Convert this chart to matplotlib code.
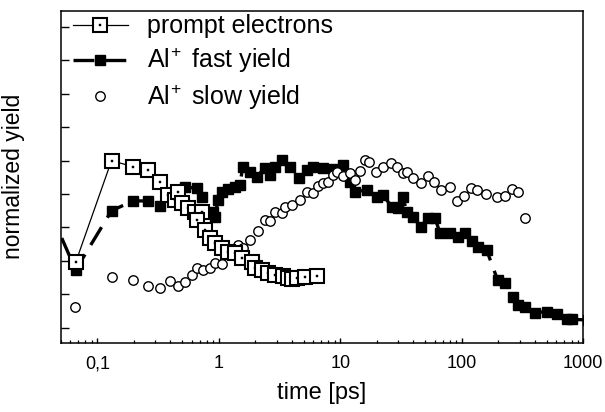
import matplotlib
matplotlib.use('Agg')
import matplotlib.pyplot as plt
from matplotlib.lines import Line2D
from matplotlib.legend_handler import HandlerTuple
from matplotlib.ticker import FixedLocator, FixedFormatter, LogLocator, NullFormatter

plt.rcParams['font.family'] = ['Liberation Sans', 'DejaVu Sans']
plt.rcParams['mathtext.fontset'] = 'custom'
plt.rcParams['mathtext.rm'] = 'Liberation Sans'
plt.rcParams['mathtext.default'] = 'regular'
plt.rcParams['lines.scale_dashes'] = False

# prompt electrons (open squares)
prompt_t = [0.0668, 0.131, 0.198, 0.263, 0.328, 0.384, 0.436, 0.464, 0.495, 0.561,
            0.637, 0.723, 0.658, 0.769, 0.846, 0.931, 1.057, 1.197, 1.36, 1.543,
            1.866, 1.986, 2.254, 2.553, 2.90, 3.397, 3.733, 3.98, 4.375, 5.12, 6.47]
prompt_y = [0.198, 0.500, 0.482, 0.472, 0.437, 0.397, 0.382, 0.407, 0.372, 0.357,
            0.347, 0.347, 0.322, 0.292, 0.268, 0.253, 0.238, 0.228, 0.223, 0.208,
            0.198, 0.178, 0.173, 0.163, 0.158, 0.155, 0.148, 0.147, 0.148, 0.151, 0.155]

# Al+ fast yield (filled squares)
fast_t = [0.04, 0.0664, 0.131, 0.198, 0.263, 0.328, 0.527, 0.658, 0.723, 0.895,
          0.931, 0.984, 1.057, 1.19, 1.36, 1.494, 1.574, 1.806, 2.05, 2.40,
          2.637, 2.90, 3.296, 3.854, 4.60, 5.29, 5.96, 7.21, 8.9, 10.5,
          12.0, 13.2, 16.5, 19.9, 22.5, 26.5, 29.8, 32.8, 35.2, 39.6,
          45.9, 52.7, 60.1, 66.2, 80.0, 93.1, 106, 121, 136, 160,
          197, 227, 264, 290, 331, 400, 500, 604, 730, 802, 1100]
fast_y = [0.356, 0.173, 0.350, 0.380, 0.379, 0.365, 0.422, 0.417, 0.392, 0.347,
          0.331, 0.382, 0.407, 0.415, 0.422, 0.427, 0.482, 0.467, 0.452, 0.478,
          0.457, 0.482, 0.502, 0.482, 0.447, 0.472, 0.482, 0.478, 0.475, 0.487,
          0.437, 0.407, 0.412, 0.392, 0.397, 0.362, 0.358, 0.392, 0.347, 0.332,
          0.302, 0.328, 0.329, 0.283, 0.284, 0.271, 0.284, 0.260, 0.242, 0.233,
          0.143, 0.134, 0.093, 0.068, 0.063, 0.045, 0.048, 0.041, 0.025, 0.025, 0.023]

# Al+ slow yield (open circles)
slow_t = [0.0655, 0.131, 0.198, 0.263, 0.328, 0.396, 0.464, 0.527, 0.598, 0.658,
          0.745, 0.847, 0.931, 1.057, 1.277, 1.446, 1.59, 1.806, 2.114, 2.40,
          2.637, 2.90, 3.296, 3.508, 3.98, 4.66, 5.29, 5.99, 6.59, 7.21,
          7.93, 8.71, 9.34, 10.5, 12.0, 13.2, 14.5, 16.0, 17.2, 19.7,
          22.3, 26.0, 29.1, 32.6, 35.6, 39.9, 45.9, 53.0, 59.4, 67.0,
          80.0, 91.8, 104, 118, 133, 158, 194, 227, 261, 292, 331]
slow_y = [0.061, 0.151, 0.143, 0.126, 0.118, 0.141, 0.126, 0.138, 0.158, 0.178,
          0.173, 0.178, 0.195, 0.191, 0.223, 0.248, 0.238, 0.262, 0.290, 0.322,
          0.320, 0.347, 0.344, 0.362, 0.367, 0.382, 0.407, 0.404, 0.424, 0.434,
          0.437, 0.457, 0.467, 0.454, 0.462, 0.442, 0.470, 0.502, 0.497, 0.467,
          0.482, 0.492, 0.482, 0.462, 0.467, 0.447, 0.432, 0.454, 0.437, 0.412,
          0.422, 0.379, 0.394, 0.417, 0.412, 0.400, 0.390, 0.394, 0.415, 0.407, 0.327]

xticks = [0.1, 1, 10, 100, 1000]
xtick_labels = ['0,1', '1', '10', '100', '1000']
yticks = [0.0, 0.1, 0.2, 0.3, 0.4, 0.5, 0.6, 0.7, 0.8, 0.9]

fig = plt.figure(figsize=(6.05, 4.12), dpi=100)
ax = fig.add_axes([0.1003, 0.1682, 0.8638, 0.8058])

fast_line, = ax.plot(fast_t, fast_y, color='k', lw=2.4, dashes=(15, 8),
                     marker='s', ms=7.8, mfc='k', mec='k', zorder=2)
slow_line, = ax.plot(slow_t, slow_y, ls='none', marker='o', ms=6.8,
                     mfc='white', mec='k', mew=1.0, zorder=2.5)

ax.plot(prompt_t, prompt_y, color='k', lw=0.9, zorder=3)
for t, y in zip(prompt_t, prompt_y):
    ax.plot(t, y, ls='none', marker='s', ms=9.5, mfc='white', mec='k', mew=1.5, zorder=4)
    ax.plot(t, y, ls='none', marker='s', ms=1.5, mfc='k', mec='k', mew=0.3, zorder=4)

ax.set_xscale('log')
ax.set_xlim(0.05, 1000)
ax.set_ylim(-0.045, 0.949)

ax.xaxis.set_major_locator(FixedLocator(xticks))
ax.xaxis.set_major_formatter(FixedFormatter(xtick_labels))
ax.xaxis.set_minor_locator(LogLocator(base=10, subs=range(2, 10), numticks=20))
ax.xaxis.set_minor_formatter(NullFormatter())
ax.set_yticks(yticks)
ax.set_yticklabels([])

ax.tick_params(axis='x', which='major', direction='in', length=3.8, width=1, pad=9, labelsize=13)
ax.tick_params(axis='x', which='minor', direction='in', length=2, width=0.9)
ax.tick_params(axis='y', which='major', direction='in', length=5.5, width=1)
for s in ax.spines.values():
    s.set_linewidth(1.1)

ax.set_xlabel('time [ps]', fontsize=17, labelpad=7)
ax.set_ylabel('normalized yield', fontsize=16.5, labelpad=22)

p_sq = Line2D([], [], color='k', lw=0.9, marker='s', ms=9.5, mfc='white', mec='k', mew=1.5)
p_dot = Line2D([], [], ls='none', marker='s', ms=1.5, mfc='k', mec='k', mew=0.3)
ax.legend([(p_sq, p_dot), fast_line, slow_line],
          ['prompt electrons', 'Al$^{\\!+}$ fast yield', 'Al$^{\\!+}$ slow yield'],
          handler_map={tuple: HandlerTuple(ndivide=1)},
          loc='upper left', bbox_to_anchor=(0.0163, 1.0), frameon=False,
          fontsize=18, numpoints=1, handlelength=2.2, handletextpad=0.76,
          labelspacing=0.3, borderaxespad=0.0, borderpad=0.15)

fig.savefig('out.png', dpi=100)
